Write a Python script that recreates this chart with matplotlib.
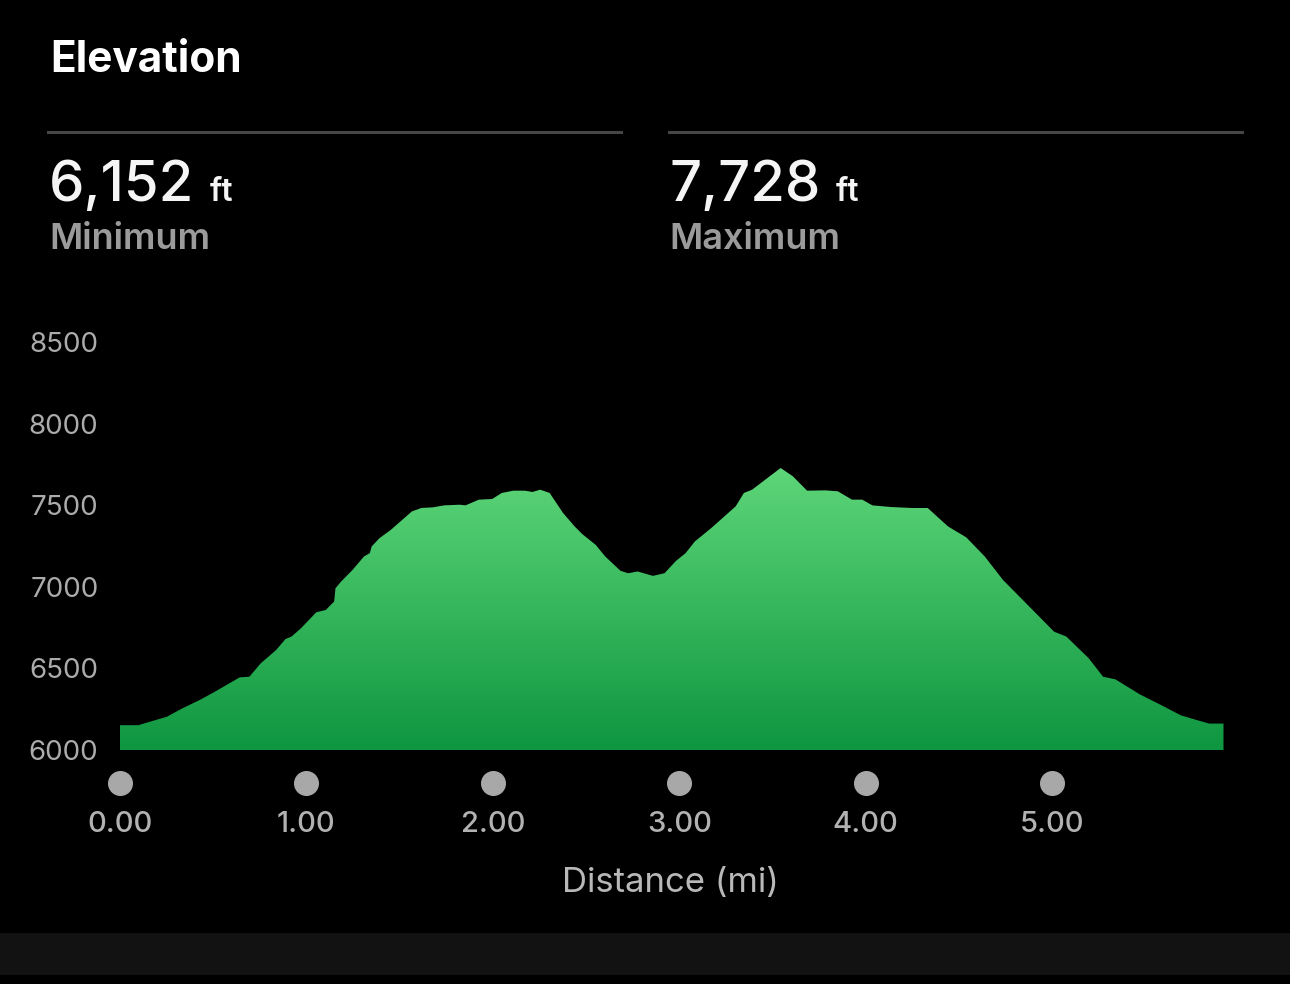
import numpy as np
import matplotlib
matplotlib.use("Agg")
import matplotlib.pyplot as plt
from matplotlib.patches import Polygon, Rectangle
from matplotlib.colors import LinearSegmentedColormap
from matplotlib.lines import Line2D

# elevation profile (miles, feet)
distance_mi = [0.000, 0.098, 0.160, 0.252, 0.334, 0.427, 0.509, 0.601, 0.642, 0.694,
               0.755, 0.837, 0.888, 0.920, 0.971, 1.053, 1.104, 1.149, 1.156, 1.186,
               1.248, 1.309, 1.340, 1.350, 1.392, 1.453, 1.515, 1.566, 1.617, 1.679,
               1.740, 1.822, 1.854, 1.925, 1.997, 2.048, 2.110, 2.172, 2.213, 2.254,
               2.305, 2.377, 2.439, 2.480, 2.552, 2.603, 2.685, 2.726, 2.777, 2.859,
               2.921, 2.983, 3.034, 3.084, 3.172, 3.303, 3.347, 3.391, 3.544, 3.610,
               3.686, 3.785, 3.851, 3.927, 3.982, 4.036, 4.135, 4.245, 4.333, 4.442,
               4.540, 4.639, 4.737, 4.891, 5.011, 5.077, 5.197, 5.274, 5.340, 5.471,
               5.603, 5.690, 5.778, 5.843, 5.920]
elevation_ft = [6152, 6152, 6173, 6204, 6255, 6306, 6357, 6418, 6445, 6449,
                6531, 6612, 6680, 6695, 6746, 6844, 6858, 6910, 6991, 7032,
                7104, 7186, 7206, 7247, 7298, 7349, 7411, 7462, 7483, 7487,
                7499, 7503, 7499, 7534, 7538, 7575, 7589, 7589, 7581, 7595,
                7575, 7452, 7370, 7323, 7257, 7186, 7098, 7083, 7094, 7067,
                7083, 7159, 7206, 7278, 7360, 7493, 7575, 7595, 7728, 7677,
                7589, 7591, 7585, 7534, 7534, 7499, 7489, 7483, 7483, 7370,
                7303, 7186, 7042, 6864, 6725, 6695, 6562, 6449, 6433, 6341,
                6265, 6213, 6183, 6162, 6162]

y_ticks = [6000, 6500, 7000, 7500, 8000, 8500]
x_ticks = [0, 1, 2, 3, 4, 5]
x_tick_labels = ["0.00", "1.00", "2.00", "3.00", "4.00", "5.00"]

min_label = "6,152"
max_label = "7,728"

W, H = 1290, 984
fig = plt.figure(figsize=(W / 100, H / 100), dpi=100, facecolor="black")
renderer = fig.canvas.get_renderer()


def fx(px):
    return px / W


def fy(py):
    return 1 - py / H


FONT = ["Inter", "DejaVu Sans"]

# header
fig.text(fx(50), fy(72), "Elevation", color="white", fontsize=30.5, fontweight="bold",
         family=FONT, va="baseline")
for x0 in (48, 669):
    fig.add_artist(Line2D([fx(x0), fx(x0 + 573)], [fy(132), fy(132)],
                          color="#464646", lw=2.2))
for x0, val, name in ((49, min_label, "Minimum"), (669, max_label, "Maximum")):
    t = fig.text(fx(x0), fy(201), val, color="#f5f5f5", fontsize=40.5, fontweight="medium",
                 family=FONT, va="baseline")
    x_end = t.get_window_extent(renderer).x1
    fig.text(fx(x_end + 15), fy(201), "ft", color="#f5f5f5", fontsize=23,
             fontweight="semibold", family=FONT, va="baseline")
    fig.text(fx(x0), fy(249), name, color="#9b9b9b", fontsize=26, fontweight="semibold",
             family=FONT, va="baseline")

# chart
left, right, top, bottom = 120, 1223.5, 342, 750
ax = fig.add_axes([fx(left), fy(bottom), (right - left) / W, (bottom - top) / H])
ax.set_facecolor("black")
for s in ax.spines.values():
    s.set_visible(False)

cmap = LinearSegmentedColormap.from_list("elev", ["#0e9640", "#5ed679"])
ymax = max(elevation_ft)
grad = np.linspace(0, 1, 256).reshape(-1, 1)
img = ax.imshow(grad, cmap=cmap, origin="lower", aspect="auto",
                extent=[0, distance_mi[-1], 6000, ymax], zorder=2)
verts = [(distance_mi[0], 6000)] + list(zip(distance_mi, elevation_ft)) + [(distance_mi[-1], 6000)]
poly = Polygon(verts, closed=True, facecolor="none", edgecolor="none")
ax.add_patch(poly)
img.set_clip_path(poly)
ax.set_xlim(0, distance_mi[-1])
ax.set_ylim(6000, 8500)

ax.set_yticks(y_ticks)
ax.set_yticklabels([str(v) for v in y_ticks], family=FONT)
ax.tick_params(axis="y", length=0, pad=15.5, labelsize=20, labelcolor="#ababab")

ax.set_xticks(x_ticks)
ax.set_xticklabels(x_tick_labels, family=FONT, fontweight="medium")
ax.tick_params(axis="x", length=0, pad=44, labelsize=21, labelcolor="#b2b2b2")

dot_y = -(783 - bottom) / (bottom - top)
ax.plot(x_ticks, [dot_y] * len(x_ticks), "o", color="#a8a8a8", markersize=17,
        transform=ax.get_xaxis_transform(), clip_on=False, linestyle="none")

fig.text(fx(670), fy(883), "Distance (mi)", color="#b8b8b8", fontsize=25,
         family=FONT, ha="center", va="center")

# bottom band
fig.add_artist(Rectangle((0, fy(975)), 1, fy(933) - fy(975), transform=fig.transFigure,
                         facecolor="#121212", edgecolor="none"))

fig.savefig("out.png", dpi=100, facecolor="black")
